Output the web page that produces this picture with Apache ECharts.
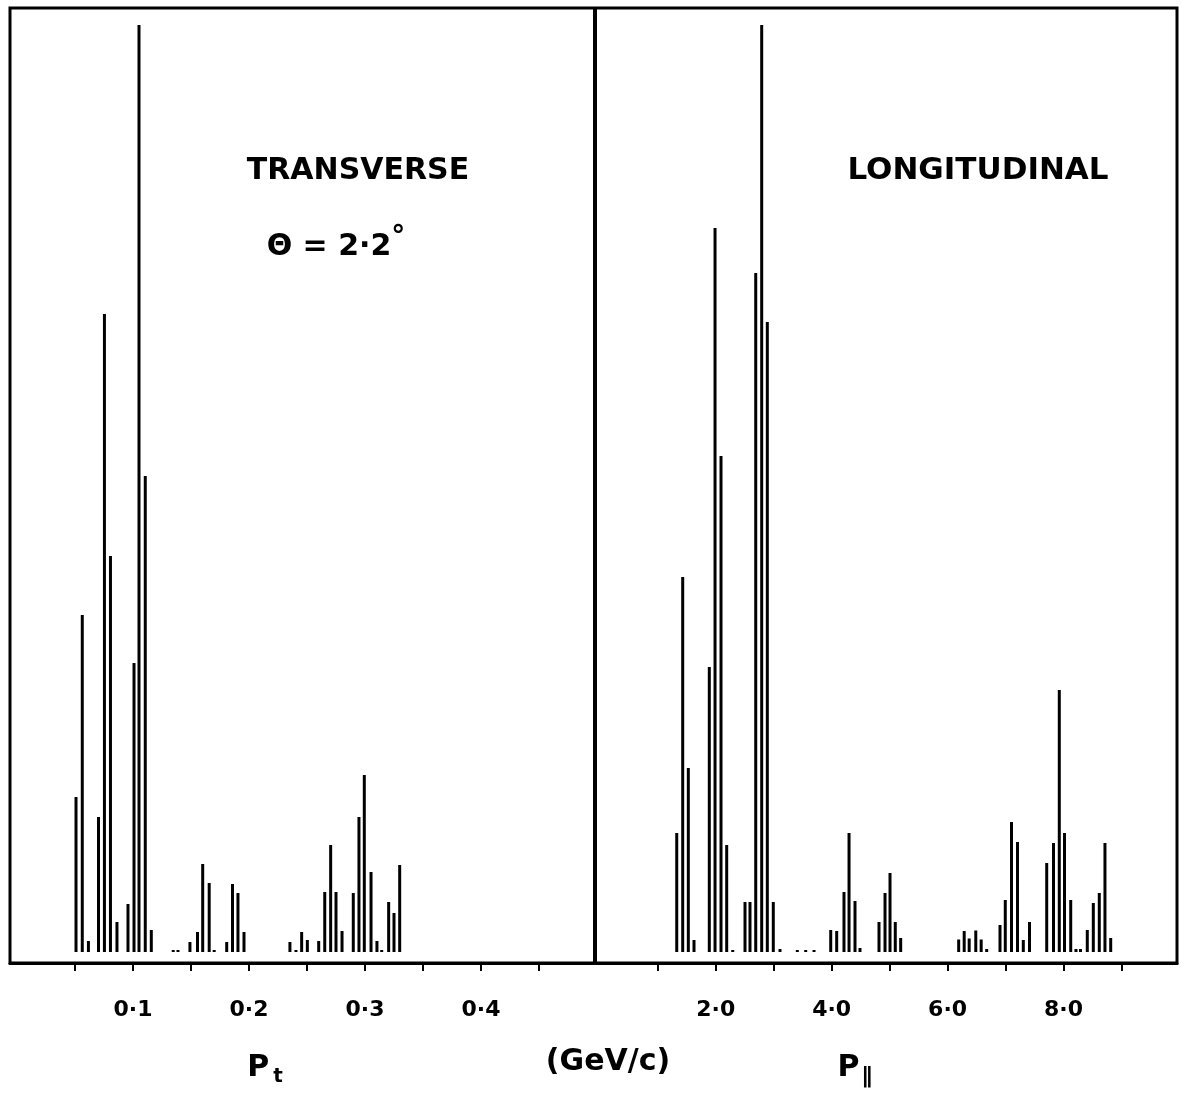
<!DOCTYPE html>
<html>
<head>
<meta charset="utf-8">
<script src="https://cdn.jsdelivr.net/npm/echarts@6/dist/echarts.min.js"></script>
<style>
html,body{margin:0;padding:0;background:#fff;}
#c{width:1181px;height:1093px;}
</style>
</head>
<body>
<div id="c"></div>
<script>
// Transverse momentum P_t (GeV/c) bar positions and heights
const ptX = [0.0509,0.0563,0.0616,0.0703,0.0754,0.0806,0.0862,0.0957,0.1009,0.1052,0.1106,0.1158,
  0.1347,0.1388,0.1491,0.1556,0.1601,0.1657,0.1700,0.1808,0.1858,0.1905,0.1957,
  0.2353,0.2405,0.2454,0.2503,0.2601,0.2653,0.2704,0.2750,0.2802,0.2899,0.2948,0.2994,0.3052,0.3103,0.3144,0.3204,0.3250,0.3299];
const ptY = [15.5,33.7,1.1,13.5,63.8,39.6,3.0,4.8,28.9,92.7,47.6,2.2,
  0.2,0.2,1.0,2.0,8.8,6.9,0.2,1.0,6.8,5.9,2.0,
  1.0,0.2,2.0,1.2,1.1,6.0,10.7,6.0,2.1,5.9,13.5,17.7,8.0,1.1,0.2,5.0,3.9,8.7];
// Longitudinal momentum P_|| (GeV/c)
const plX = [1.327,1.430,1.527,1.625,1.889,1.988,2.091,2.189,2.293,
  2.505,2.591,2.690,2.793,2.890,2.993,3.109,3.408,3.552,3.696,
  3.984,4.087,4.213,4.300,4.403,4.489,4.817,4.921,5.007,5.098,5.191,
  6.192,6.287,6.373,6.487,6.580,6.675,6.905,6.996,7.103,7.207,7.307,7.414,
  7.711,7.828,7.928,8.018,8.125,8.216,8.294,8.411,8.515,8.618,8.716,8.815];
const plY = [11.9,37.5,18.4,1.2,28.5,72.4,49.6,10.7,0.2,
  5.0,5.0,67.9,92.7,63.0,5.0,0.3,0.2,0.2,0.2,
  2.2,2.1,6.0,11.9,5.1,0.4,3.0,5.9,7.9,3.0,1.4,
  1.25,2.1,1.35,2.15,1.25,0.3,2.7,5.2,13.0,11.0,1.2,3.0,
  8.9,10.9,26.2,11.9,5.2,0.3,0.3,2.2,4.9,5.9,10.9,1.4];
const ptTicks = [0.05,0.10,0.15,0.20,0.25,0.30,0.35,0.40,0.45];
const ptLabels = [0.1,0.2,0.3,0.4];
const plTicks = [1,2,3,4,5,6,7,8,9];
const plLabels = [2,4,6,8];

const chart = echarts.init(document.getElementById('c'), null, {renderer:'canvas'});
const FONT = 'DejaVu Sans';
const fmt = v => Number(v).toFixed(1).replace('.', '·');
function xAx(idx, min, max, ticks, labels){
  return {
    type:'value', gridIndex:idx, min:min, max:max,
    axisLine:{show:true, onZero:false, lineStyle:{color:'#000', width:3}},
    axisTick:{show:true, inside:false, length:8, customValues:ticks, lineStyle:{color:'#000', width:2}},
    axisLabel:{show:true, margin:36, customValues:labels, formatter:fmt,
      color:'#000', fontFamily:FONT, fontWeight:'bold', fontSize:22},
    splitLine:{show:false}
  };
}
function yAx(idx){
  return {type:'value', gridIndex:idx, min:-1.1, max:94.4, show:false, splitLine:{show:false}};
}
chart.setOption({
  animation:false,
  backgroundColor:'#fff',
  grid:[
    {left:10, top:8, width:584, height:955},
    {left:596, top:8, width:581, height:955}
  ],
  xAxis:[xAx(0,-0.006,0.4974,ptTicks,ptLabels), xAx(1,-0.066,9.959,plTicks,plLabels)],
  yAxis:[yAx(0), yAx(1)],
  series:[
    {type:'bar', xAxisIndex:0, yAxisIndex:0, barWidth:3, itemStyle:{color:'#000'},
     data: ptX.map((x,i)=>[x, ptY[i]])},
    {type:'bar', xAxisIndex:1, yAxisIndex:1, barWidth:3, itemStyle:{color:'#000'},
     data: plX.map((x,i)=>[x, plY[i]])}
  ],
  graphic:[
    {type:'rect', shape:{x:10, y:8, width:1167, height:955}, style:{fill:'none', stroke:'#000', lineWidth:3}, silent:true},
    {type:'line', shape:{x1:595, y1:8, x2:595, y2:963}, style:{stroke:'#000', lineWidth:4}, silent:true},
    {type:'text', style:{text:'TRANSVERSE', x:358, y:171, align:'center', verticalAlign:'middle', font:'bold 30px "DejaVu Sans"', fill:'#000'}},
    {type:'text', style:{x:336, y:247, align:'center', verticalAlign:'middle', fill:'#000',
      text:'{m|Θ = 2·2}{d|°}', rich:{m:{fontFamily:FONT, fontWeight:'bold', fontSize:30, verticalAlign:'middle'}, d:{fontFamily:FONT, fontWeight:'bold', fontSize:28, verticalAlign:'top', padding:[0,0,18,0]}}}},
    {type:'text', style:{text:'LONGITUDINAL', x:978, y:171, align:'center', verticalAlign:'middle', font:'bold 31px "DejaVu Sans"', fill:'#000'}},
    {type:'text', style:{x:265, y:1068, align:'center', verticalAlign:'middle', fill:'#000',
      text:'{p|P}{s|t}', rich:{p:{fontFamily:FONT, fontWeight:'bold', fontSize:30}, s:{fontFamily:FONT, fontWeight:'bold', fontSize:20, padding:[18,0,0,4]}}}},
    {type:'text', style:{text:'(GeV/c)', x:608, y:1062, align:'center', verticalAlign:'middle', font:'bold 30px "DejaVu Sans"', fill:'#000'}},
    {type:'text', style:{x:855, y:1068, align:'center', verticalAlign:'middle', fill:'#000',
      text:'{p|P}{s|∥}', rich:{p:{fontFamily:FONT, fontWeight:'bold', fontSize:30}, s:{fontFamily:FONT, fontWeight:'bold', fontSize:22, padding:[18,0,0,2]}}}}
  ]
});
</script>
</body>
</html>
